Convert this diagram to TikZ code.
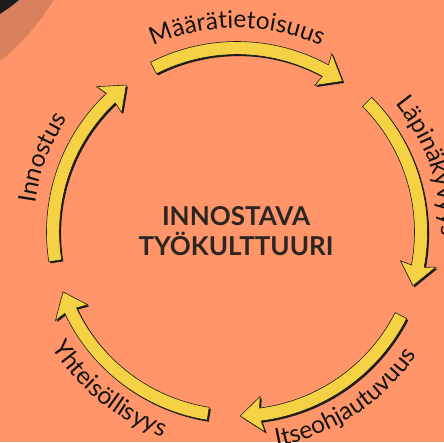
\documentclass[tikz,border=0pt]{standalone}
\usepackage{fontspec}
\setmainfont{Lato}
\usetikzlibrary{decorations.text}
\definecolor{bg}{HTML}{FF9568}
\definecolor{band}{HTML}{D9815F}
\definecolor{cornerdark}{HTML}{1C1C1C}
\definecolor{arrowyellow}{HTML}{F5D244}
\definecolor{ink}{HTML}{141414}
\definecolor{titleink}{HTML}{2B2622}
\newcommand\labfont{\fontsize{24.5}{24.5}\selectfont}
% clockwise curved arrow: #1 tail angle, #2 tip angle
\newcommand\arrowpath[2]{%
  ({#1}:190.5) arc[start angle={#1}, end angle={#2+6.3}, radius=190.5]
  -- ({#2+7}:202) -- ({#2}:184) -- ({#2+7}:166) -- ({#2+6.3}:177.5)
  arc[start angle={#2+6.3}, end angle={#1}, radius=177.5] -- cycle}
\tikzset{
  shadowfill/.style={fill=cornerdark},
  arrowfill/.style={fill=arrowyellow, draw=cornerdark, line width=0.6pt, line join=miter},
  outlabel/.style={decorate, decoration={text along path, text align=center, text color=ink, text={|\labfont|#1}}},
}
\begin{document}
\begin{tikzpicture}[x=1pt,y=1pt]
\useasboundingbox (0,0) rectangle (444,442);
\clip (0,0) rectangle (444,442);
\fill[bg] (0,0) rectangle (444,442);
\fill[band] (0,442) -- (54,442) .. controls (38,418) and (22,398) .. (0,381) -- cycle;
\fill[cornerdark] (0,442) -- (19,442) .. controls (12,436) and (6,432) .. (0,428) -- cycle;
\node[font=\bfseries\fontsize{26}{30}\selectfont, align=center, text=titleink] (title) at (236,211) {INNOSTAVA\\TYÖKULTTUURI};
\begin{scope}[shift={(237,210)}]
  \foreach \a in {0,1,2,3,4}{
    \pgfmathsetmacro\st{117-72*\a}
    \pgfmathsetmacro\en{55-72*\a}
    \fill[shadowfill, shift={(1.6,-1.6)}] \arrowpath{\st}{\en};
    \filldraw[arrowfill] \arrowpath{\st}{\en};
  }
  \path[outlabel={Määrätietoisuus}] (130:204) arc[start angle=130, end angle=50, radius=204];
  \path[outlabel={Läpinäkyvyys}] (60:204) arc[start angle=60, end angle=-22, radius=204];
  \path[outlabel={Innostus}] (199:204) arc[start angle=199, end angle=119, radius=204];
  \path[outlabel={Itseohjautuvuus}] (-97:218) arc[start angle=-97, end angle=-17, radius=218];
  \path[outlabel={Yhteisöllisyys}] (-169:218) arc[start angle=-169, end angle=-89, radius=218];
\end{scope}
\end{tikzpicture}
\end{document}
